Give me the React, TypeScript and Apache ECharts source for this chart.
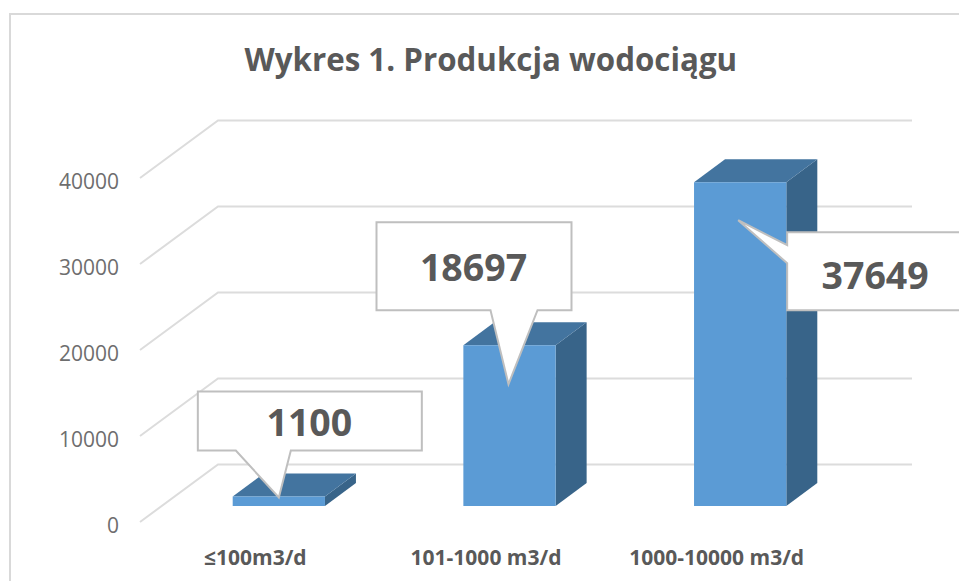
import React, { useEffect, useRef } from "react";
import * as echarts from "echarts";

const titleText = "Wykres 1. Produkcja wodociągu";
const categories = ["≤100m3/d", "101-1000 m3/d", "1000-10000 m3/d"];
const production = [1100, 18697, 37649];
const yTicks = [0, 10000, 20000, 30000, 40000];

const FONT = '"Open Sans", sans-serif';
const WALL_DX = 78;
const WALL_DY = 57.5;
const WALL_RIGHT_EXTRA = 2;
const BAR_DX = 31;
const BAR_DY = 23;
const BAR_SHIFT_X = 23.5;
const BAR_SHIFT_Y = 16;
const BAR_RATIO = 0.4;

// Callout outlines, relative to the centre of the bar's front top edge.
const calloutLayouts = [
  {
    text: [30.5, -75],
    points: [[-81, -105], [143, -105], [143, -46], [12, -46], [0, 1], [-43, -46], [-81, -46]],
  },
  {
    text: [-36, -79],
    points: [[-133, -123], [62, -123], [62, -35], [28, -35], [-1, 39], [-19, -35], [-133, -35]],
  },
  {
    text: [135, 92],
    points: [[47, 50], [222, 50], [222, 128], [47, 128], [47, 81], [-2, 38], [47, 63]],
  },
];

function renderWall(params: any, api: any) {
  const cs = params.coordSys;
  const y = api.coord([0, api.value(1)])[1];
  const x0 = cs.x;
  const x1 = cs.x + WALL_DX;
  const x2 = cs.x + cs.width + WALL_DX + WALL_RIGHT_EXTRA;
  return {
    type: "polyline",
    shape: { points: [[x0, y], [x1, y - WALL_DY], [x2, y - WALL_DY]] },
    style: { stroke: "#dcdcdc", lineWidth: 2, fill: "none" },
    silent: true,
  };
}

function barGeometry(api: any) {
  const idx = api.value(0);
  const [cx, top] = api.coord([idx, api.value(1)]);
  const bottom = api.coord([idx, 0])[1];
  const w = api.size([1, 0])[0] * BAR_RATIO;
  const mid = cx + BAR_SHIFT_X;
  return { idx, mid, w, yTop: top - BAR_SHIFT_Y, yBottom: bottom - BAR_SHIFT_Y };
}

function renderBar(_params: any, api: any) {
  const { mid, w, yTop, yBottom } = barGeometry(api);
  const l = mid - w / 2;
  const r = mid + w / 2;
  return {
    type: "group",
    children: [
      {
        type: "polygon",
        shape: { points: [[r, yTop], [r + BAR_DX, yTop - BAR_DY], [r + BAR_DX, yBottom - BAR_DY], [r, yBottom]] },
        style: { fill: "#386489" },
      },
      {
        type: "polygon",
        shape: { points: [[l, yTop], [l + BAR_DX, yTop - BAR_DY], [r + BAR_DX, yTop - BAR_DY], [r, yTop]] },
        style: { fill: "#43749f" },
      },
      {
        type: "rect",
        shape: { x: l, y: yTop, width: w, height: yBottom - yTop },
        style: { fill: "#5b9bd5" },
      },
    ],
  };
}

function renderCallout(_params: any, api: any) {
  const { idx, mid, yTop } = barGeometry(api);
  const layout = calloutLayouts[idx];
  return {
    type: "group",
    children: [
      {
        type: "polygon",
        shape: { points: layout.points.map(([dx, dy]) => [mid + dx, yTop + dy]) },
        style: { fill: "#ffffff", stroke: "#bfbfbf", lineWidth: 2, lineJoin: "miter" },
      },
      {
        type: "text",
        style: {
          x: mid + layout.text[0],
          y: yTop + layout.text[1],
          text: String(api.value(1)),
          align: "center",
          verticalAlign: "middle",
          fontFamily: FONT,
          fontWeight: "bold",
          fontSize: 37.5,
          fill: "#595959",
        },
      },
    ],
  };
}

export default function App() {
  const ref = useRef<HTMLDivElement>(null);
  useEffect(() => {
    const chart = echarts.init(ref.current!, null, { renderer: "svg" });
    const barData = production.map((v, i) => [i, v]);
    chart.setOption({
      animation: false,
      backgroundColor: "#ffffff",
      title: {
        text: titleText,
        left: 239.5,
        top: 38,
        textStyle: { fontFamily: FONT, fontWeight: "bold", fontSize: 31.3, color: "#595959" },
      },
      grid: { left: 140, top: 178, width: 692, height: 344 },
      xAxis: {
        type: "category",
        data: categories,
        axisLine: { show: false },
        axisTick: { show: false },
        splitLine: { show: false },
        axisLabel: {
          margin: 24,
          interval: 0,
          fontFamily: FONT,
          fontWeight: "bold",
          fontSize: 21,
          color: "#595959",
        },
      },
      yAxis: {
        type: "value",
        min: yTicks[0],
        max: yTicks[yTicks.length - 1],
        interval: yTicks[1] - yTicks[0],
        axisLine: { show: false },
        axisTick: { show: false },
        splitLine: { show: false },
        axisLabel: {
          margin: 21,
          fontFamily: FONT,
          fontSize: 21,
          color: "#6e6e6e",
          verticalAlign: "top",
          lineHeight: 6,
          formatter: (v: number) => String(v),
        },
      },
      graphic: [
        {
          type: "polyline",
          shape: { points: [[10, 581], [10, 14], [959, 14]] },
          style: { stroke: "#d9d9d9", lineWidth: 2, fill: "none" },
          silent: true,
        },
      ],
      series: [
        {
          type: "custom",
          name: "Siatka",
          renderItem: renderWall,
          data: yTicks.map((v) => [0, v]),
          encode: { x: 0, y: 1 },
          clip: false,
          z: 1,
          silent: true,
        },
        {
          type: "custom",
          name: "Produkcja",
          renderItem: renderBar,
          data: barData,
          encode: { x: 0, y: 1 },
          clip: false,
          z: 2,
          silent: true,
        },
        {
          type: "custom",
          name: "Etykiety",
          renderItem: renderCallout,
          data: barData,
          encode: { x: 0, y: 1 },
          clip: false,
          z: 3,
          silent: true,
        },
      ],
    });
    return () => chart.dispose();
  }, []);
  return <div ref={ref} style={{ position: "absolute", left: 0, top: 0, width: 959, height: 581 }} />;
}
